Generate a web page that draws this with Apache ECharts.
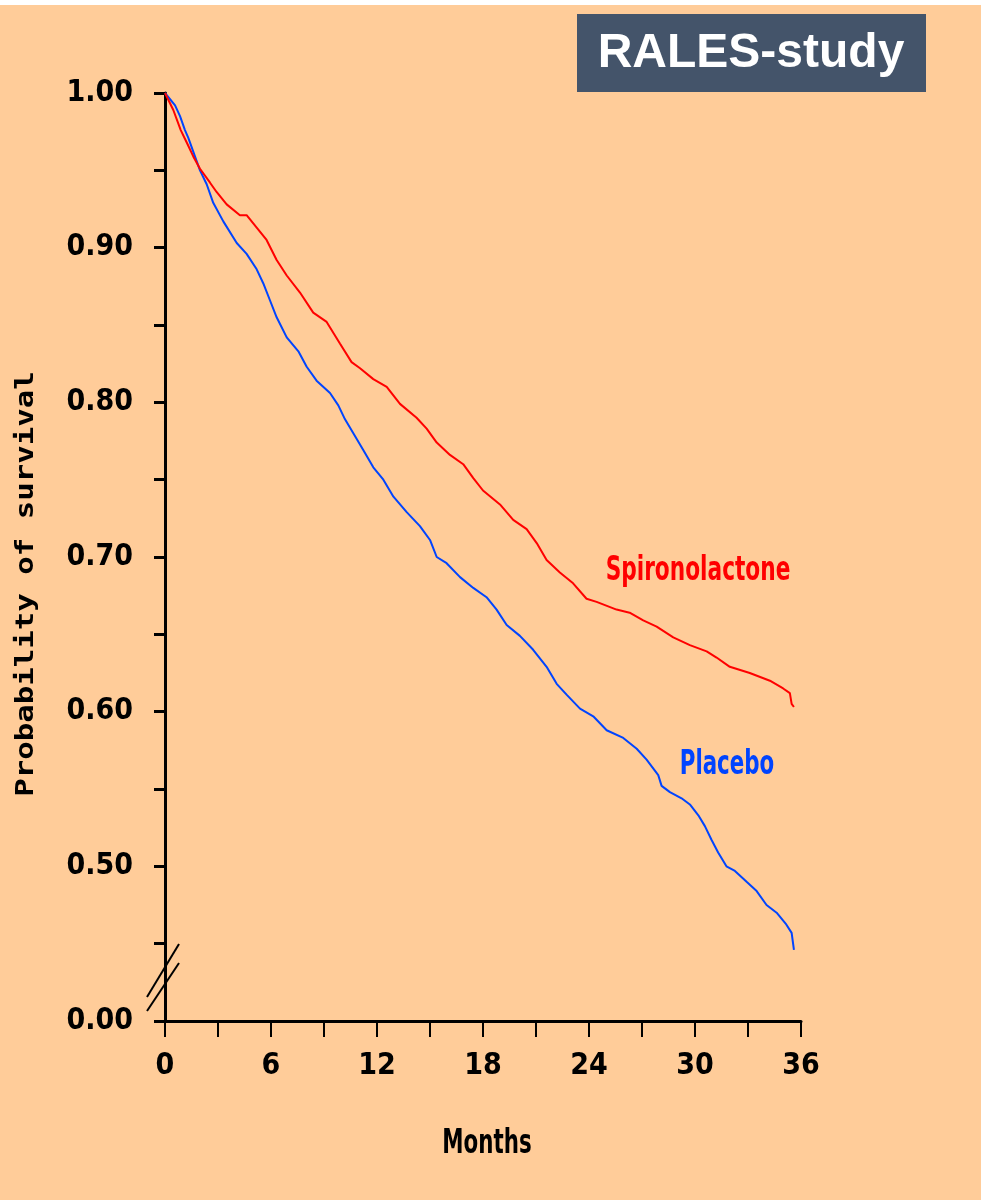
<!DOCTYPE html>
<html>
<head>
<meta charset="utf-8">
<script src="https://cdn.jsdelivr.net/npm/echarts@6/dist/echarts.min.js"></script>
<style>
  html, body { margin: 0; padding: 0; background: #ffffff; }
  #chart { width: 982px; height: 1200px; }
</style>
</head>
<body>
<div id="chart"></div>
<script>
// Kaplan-Meier survival, RALES trial (months since randomisation)
const spiroMonths = [0, 0.47, 0.89, 1.23, 1.6, 1.98, 2.55, 2.92, 3.49, 4.24, 4.62, 5.19, 5.75, 6.32, 6.89, 7.64, 8.39, 9.15, 9.9, 10.56, 11.04, 11.79, 12.55, 13.3, 14.24, 14.81, 15.38, 16.13, 16.88, 17.45, 18.0, 18.96, 19.71, 20.47, 21.04, 21.6, 22.35, 23.1, 23.86, 24.43, 25.56, 26.3, 27.07, 27.83, 28.77, 29.71, 30.66, 31.22, 31.97, 33.1, 34.24, 34.99, 35.37, 35.47, 35.6];
const spiroSurvival = [1.000, 0.989, 0.976, 0.968, 0.959, 0.951, 0.942, 0.936, 0.928, 0.921, 0.921, 0.913, 0.905, 0.892, 0.882, 0.871, 0.858, 0.852, 0.838, 0.826, 0.822, 0.815, 0.810, 0.799, 0.790, 0.783, 0.774, 0.766, 0.760, 0.751, 0.743, 0.734, 0.724, 0.718, 0.709, 0.698, 0.690, 0.683, 0.673, 0.671, 0.666, 0.664, 0.659, 0.655, 0.648, 0.643, 0.639, 0.635, 0.629, 0.625, 0.620, 0.615, 0.612, 0.605, 0.603];

const placeboMonths = [0, 0.57, 0.85, 1.13, 1.32, 1.98, 2.36, 2.73, 3.30, 4.06, 4.62, 5.19, 5.56, 5.94, 6.32, 6.89, 7.55, 8.02, 8.58, 9.34, 9.81, 10.19, 10.66, 11.23, 11.79, 12.36, 12.93, 13.68, 14.43, 15.0, 15.38, 15.94, 16.7, 17.45, 18.2, 18.77, 19.34, 20.09, 20.84, 21.6, 22.17, 22.73, 23.49, 24.24, 25.0, 25.94, 26.7, 27.26, 27.92, 28.11, 28.58, 29.24, 29.71, 30.19, 30.56, 30.94, 31.31, 31.78, 32.26, 32.92, 33.49, 34.05, 34.62, 35.13, 35.47, 35.6];
const placeboSurvival = [1.000, 0.992, 0.985, 0.976, 0.971, 0.950, 0.941, 0.929, 0.917, 0.903, 0.896, 0.886, 0.877, 0.866, 0.855, 0.842, 0.833, 0.823, 0.814, 0.806, 0.798, 0.789, 0.780, 0.769, 0.758, 0.750, 0.739, 0.729, 0.720, 0.711, 0.700, 0.696, 0.687, 0.680, 0.674, 0.666, 0.656, 0.649, 0.640, 0.629, 0.618, 0.611, 0.602, 0.597, 0.588, 0.583, 0.576, 0.569, 0.559, 0.552, 0.548, 0.544, 0.540, 0.533, 0.526, 0.517, 0.509, 0.500, 0.497, 0.490, 0.484, 0.475, 0.470, 0.463, 0.457, 0.446];

const seriesNames = ['Spironolactone', 'Placebo'];
const monthTicks = [0, 6, 12, 18, 24, 30, 36];
// the y axis is broken: its bottom (0.40 on the scale) is labelled as zero
const yBreakValue = 0.40;
const yTickLabels = { '0.4': '0.00', '0.5': '0.50', '0.6': '0.60', '0.7': '0.70', '0.8': '0.80', '0.9': '0.90', '1': '1.00' };

const boldFont = "'DejaVu Sans Condensed', 'DejaVu Sans', sans-serif";
const peach = '#FFCC99';

const zip = (xs, ys) => xs.map((x, i) => [x, ys[i]]);

const chart = echarts.init(document.getElementById('chart'), null, { renderer: 'canvas' });

chart.setOption({
  backgroundColor: '#ffffff',
  animation: false,
  grid: { left: 165, top: 93, right: 181, bottom: 179, containLabel: false },
  xAxis: {
    type: 'value',
    min: monthTicks[0],
    max: monthTicks[monthTicks.length - 1],
    interval: 6,
    axisLine: { show: true, lineStyle: { color: '#000', width: 3 } },
    axisTick: { show: true, inside: false, length: 16, lineStyle: { color: '#000', width: 2 } },
    minorTick: { show: true, splitNumber: 2, length: 16, lineStyle: { color: '#000', width: 2 } },
    splitLine: { show: false },
    axisLabel: {
      margin: 30,
      color: '#000',
      fontFamily: boldFont,
      fontWeight: 'bold',
      fontSize: 30
    }
  },
  yAxis: {
    type: 'value',
    min: yBreakValue,
    max: 1.0,
    interval: 0.1,
    axisLine: { show: true, lineStyle: { color: '#000', width: 3 } },
    axisTick: { show: true, inside: false, length: 11, lineStyle: { color: '#000', width: 3 } },
    minorTick: { show: true, splitNumber: 2, length: 11, lineStyle: { color: '#000', width: 3 } },
    splitLine: { show: false },
    axisLabel: {
      margin: 32,
      color: '#000',
      fontFamily: boldFont,
      fontWeight: 'bold',
      fontSize: 30,
      formatter: v => yTickLabels[String(Math.round(v * 10) / 10)] || v.toFixed(2)
    }
  },
  series: [
    {
      name: seriesNames[0],
      type: 'line',
      data: zip(spiroMonths, spiroSurvival),
      showSymbol: false,
      symbol: 'none',
      lineStyle: { color: '#FF0000', width: 2 },
      z: 3
    },
    {
      name: seriesNames[1],
      type: 'line',
      data: zip(placeboMonths, placeboSurvival),
      showSymbol: false,
      symbol: 'none',
      lineStyle: { color: '#0044FF', width: 2 },
      z: 2
    }
  ],
  graphic: [
    // peach page with a thin white margin along the top and right
    { type: 'rect', z: -10, silent: true, shape: { x: 0, y: 5, width: 981, height: 1195 }, style: { fill: peach } },
    // title box
    { type: 'rect', z: 10, shape: { x: 577, y: 14, width: 349, height: 78 }, style: { fill: '#44546A' } },
    {
      type: 'text', z: 11, x: 751, y: 54,
      style: { text: 'RALES-study', fill: '#ffffff', font: "bold 48px 'Liberation Sans', Arial, sans-serif", align: 'center', verticalAlign: 'middle' }
    },
    // axis titles
    {
      type: 'text', z: 5, x: 27, y: 584, rotation: Math.PI / 2, scaleX: 1.28,
      style: { text: 'Probability of survival', fill: '#000', font: "bold 24px 'DejaVu Sans Mono', monospace", align: 'center', verticalAlign: 'middle' }
    },
    {
      type: 'text', z: 5, x: 487, y: 1144, scaleX: 0.72,
      style: { text: 'Months', fill: '#000', font: 'bold 33px ' + boldFont, align: 'center', verticalAlign: 'middle' }
    },
    // series labels
    {
      type: 'text', z: 5, x: 698, y: 571, scaleX: 0.73,
      style: { text: seriesNames[0], fill: '#FF0000', font: 'bold 33px ' + boldFont, align: 'center', verticalAlign: 'middle' }
    },
    {
      type: 'text', z: 5, x: 727, y: 765, scaleX: 0.72,
      style: { text: seriesNames[1], fill: '#0044FF', font: 'bold 33px ' + boldFont, align: 'center', verticalAlign: 'middle' }
    },
    // axis break marks
    { type: 'line', z: 6, shape: { x1: 147, y1: 997, x2: 179, y2: 944 }, style: { stroke: '#000', lineWidth: 2 } },
    { type: 'line', z: 6, shape: { x1: 147, y1: 1011, x2: 179, y2: 963 }, style: { stroke: '#000', lineWidth: 2 } }
  ]
});
</script>
</body>
</html>
